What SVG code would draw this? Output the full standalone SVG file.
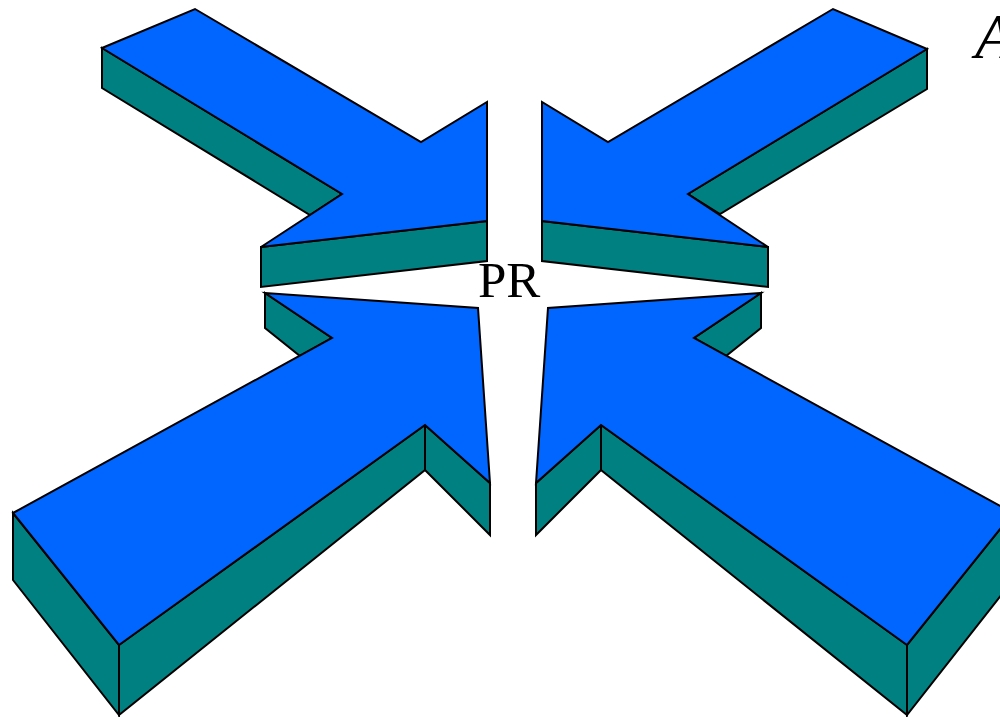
<svg xmlns="http://www.w3.org/2000/svg" width="1000" height="717" viewBox="0 0 1000 717">
<style>
.top{fill:#0066FF;stroke:#000;stroke-width:2;stroke-linejoin:miter}
.side{fill:#008080;stroke:#000;stroke-width:2;stroke-linejoin:miter}
</style>
<rect width="1000" height="717" fill="#fff"/>
<g id="arrow-top-left">
<polygon class="side" points="102,48 342,194 310,215 102,88"/>
<polygon class="side" points="261,247 487,221 487,261 261,287"/>
<polygon class="top" points="102,48 195,9 421,142 487,102 487,221 261,247 342,194"/>
</g>
<g id="arrow-top-right">
<polygon class="side" points="927,49 688,194 720,214 927,89"/>
<polygon class="side" points="768,247 542,221 542,261 768,287"/>
<polygon class="top" points="927,49 833,9 608,142 542,102 542,221 768,247 688,194"/>
</g>
<g id="arrow-bottom-left">
<polygon class="side" points="265,293 332,338 300,356 265,328"/>
<polygon class="side" points="13,513 119,645 119,715 13,580"/>
<polygon class="side" points="119,645 425,425 425,470 119,715"/>
<polygon class="side" points="425,425 490,483 490,535 425,470"/>
<polygon class="top" points="13,513 332,338 265,293 478,308 490,483 425,425 119,645"/>
</g>
<g id="arrow-bottom-right">
<polygon class="side" points="761,293 694,338 726,356 761,328"/>
<polygon class="side" points="1013,513 907,645 907,715 1013,580"/>
<polygon class="side" points="907,645 601,425 601,470 907,715"/>
<polygon class="side" points="601,425 536,483 536,535 601,470"/>
<polygon class="top" points="1013,513 694,338 761,293 548,308 536,483 601,425 907,645"/>
</g>
<g id="connectors"></g>
<g id="labels">
<text x="478" y="297" font-family="Liberation Serif, serif" font-size="51" fill="#000">PR</text>
<text x="975" y="58" font-family="Liberation Serif, serif" font-size="64" font-style="italic" fill="#000">A</text>
</g>
</svg>
